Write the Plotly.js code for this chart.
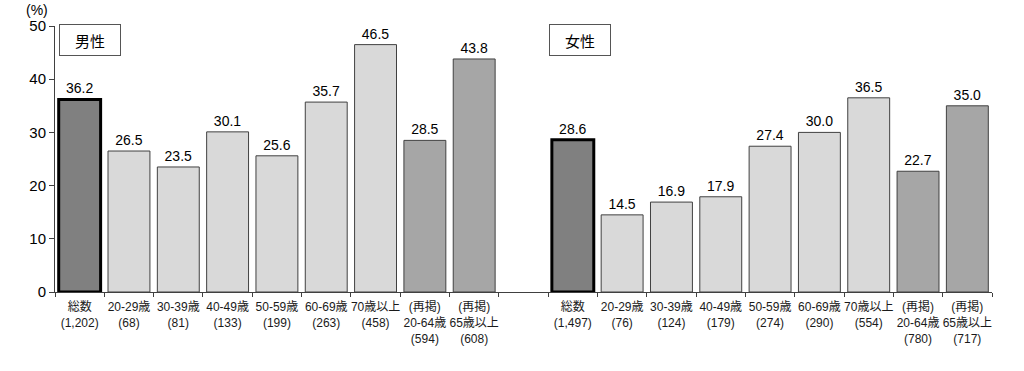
<!DOCTYPE html>
<html>
<head>
<meta charset="utf-8">
<script src="https://cdn.plot.ly/plotly-3.0.1.min.js"></script>
<style>html,body{margin:0;padding:0;background:#fff;}#chart{width:1024px;height:371px;}</style>
</head>
<body>
<div id="chart"></div>
<script>
const categories = [
  "総数<br>(1,202)", "20-29歳<br>(68)", "30-39歳<br>(81)", "40-49歳<br>(133)", "50-59歳<br>(199)",
  "60-69歳<br>(263)", "70歳以上<br>(458)", "(再掲)<br>20-64歳<br>(594)", "(再掲)<br>65歳以上<br>(608)",
  " ",
  "総数<br>(1,497)", "20-29歳<br>(76)", "30-39歳<br>(124)", "40-49歳<br>(179)", "50-59歳<br>(274)",
  "60-69歳<br>(290)", "70歳以上<br>(554)", "(再掲)<br>20-64歳<br>(780)", "(再掲)<br>65歳以上<br>(717)"
];
const maleValues = [36.2, 26.5, 23.5, 30.1, 25.6, 35.7, 46.5, 28.5, 43.8];
const femaleValues = [28.6, 14.5, 16.9, 17.9, 27.4, 30.0, 36.5, 22.7, 35.0];
const barKinds = ["total", "age", "age", "age", "age", "age", "age", "recap", "recap"];
const groupLabels = ["男性", "女性"];

const fillFor = {total: "#808080", age: "#d9d9d9", recap: "#a6a6a6"};
const lineWFor = {total: 3, age: 1, recap: 1};
const lineCFor = {total: "#000000", age: "#404040", recap: "#404040"};

const values = maleValues.concat([null], femaleValues);
const kinds = barKinds.concat(["none"], barKinds);
const colors = kinds.map(k => fillFor[k] || "rgba(0,0,0,0)");
const lineW = kinds.map(k => lineWFor[k] || 0);
const lineC = kinds.map(k => lineCFor[k] || "#000");

const FONT = "'Liberation Sans', Arial, 'Noto Sans CJK JP', sans-serif";

const trace = {
  type: "bar",
  x: categories,
  y: values,
  marker: {color: colors, line: {color: lineC, width: lineW}},
  text: values.map(v => v === null ? "" : v.toFixed(1)),
  textposition: "outside",
  textfont: {family: FONT, size: 14, color: "#000"},
  cliponaxis: false,
  hoverinfo: "skip"
};

const layout = {
  width: 1024, height: 371,
  margin: {l: 55, r: 32, t: 26, b: 79},
  paper_bgcolor: "#fff", plot_bgcolor: "#fff",
  showlegend: false,
  bargap: 0.15,
  font: {family: FONT, color: "#000"},
  xaxis: {
    type: "category",
    tickson: "boundaries",
    ticks: "outside", ticklen: 4, tickcolor: "#404040", tickwidth: 1,
    showline: true, linecolor: "#404040", linewidth: 1,
    showgrid: false, zeroline: false,
    tickfont: {family: FONT, size: 12, color: "#1a1a1a"},
    ticklabelstandoff: 4,
    tickangle: 0,
    range: [-0.5, 18.5],
    fixedrange: true
  },
  yaxis: {
    range: [0, 50], dtick: 10,
    ticks: "outside", ticklen: 5, tickcolor: "#404040",
    showline: true, linecolor: "#404040", linewidth: 1,
    showgrid: false, zeroline: false,
    tickfont: {family: FONT, size: 15, color: "#000"},
    fixedrange: true
  },
  annotations: [
    {text: "(%)", xref: "paper", yref: "paper", x: (37 - 55) / 937, y: (292 - 10) / 266,
     xanchor: "center", yanchor: "middle",
     showarrow: false, font: {family: FONT, size: 14, color: "#000"}},
    {text: groupLabels[0], xref: "paper", yref: "paper", x: (90 - 55) / 937, y: (292 - 40) / 266,
     xanchor: "center", yanchor: "middle",
     showarrow: false, width: 58, height: 28, borderpad: 1, bordercolor: "#555", borderwidth: 1,
     bgcolor: "#fff", font: {family: "'Noto Sans CJK JP', sans-serif", size: 15, color: "#000"}},
    {text: groupLabels[1], xref: "paper", yref: "paper", x: (580 - 55) / 937, y: (292 - 40) / 266,
     xanchor: "center", yanchor: "middle",
     showarrow: false, width: 58, height: 28, borderpad: 1, bordercolor: "#555", borderwidth: 1,
     bgcolor: "#fff", font: {family: "'Noto Sans CJK JP', sans-serif", size: 15, color: "#000"}}
  ]
};

Plotly.newPlot("chart", [trace], layout, {staticPlot: true, displayModeBar: false});
</script>
</body>
</html>
